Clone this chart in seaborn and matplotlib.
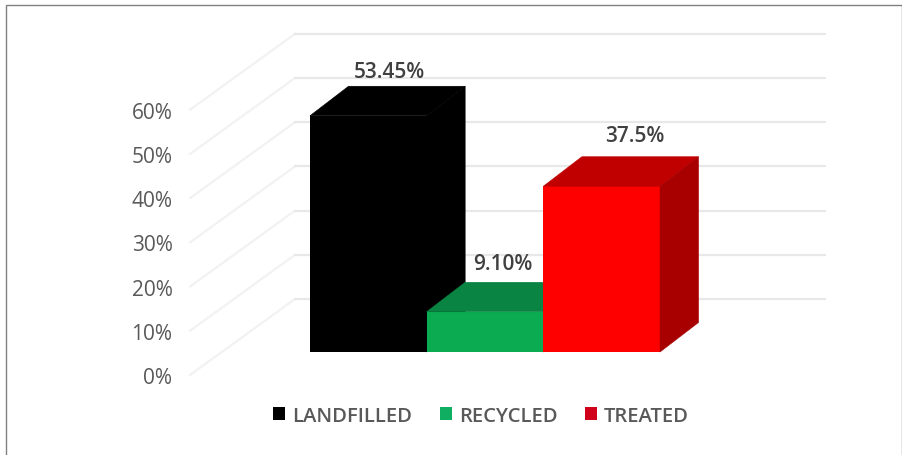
import matplotlib
matplotlib.use('Agg')
import matplotlib.pyplot as plt
from matplotlib.patches import Patch, Polygon, Rectangle
import numpy as np
import pandas as pd
import seaborn as sns

categories = ['LANDFILLED', 'RECYCLED', 'TREATED']
shares = [53.45, 9.10, 37.5]
value_labels = ['53.45%', '9.10%', '37.5%']
ticks = [0, 10, 20, 30, 40, 50, 60]
tick_labels = ['0%', '10%', '20%', '30%', '40%', '50%', '60%']

front_colors = ['#000000', '#0bab52', '#ff0000']
top_colors = ['#000000', '#0a8443', '#c00000']
side_colors = ['#000000', '#07703a', '#a80000']
legend_colors = ['#000000', '#0fae60', '#d0001a']
label_offsets = [(1, 3), (-1, 6), (10, 8)]

W, H = 903, 456
ppx = 116.67  # pixels per category
ppy = 4.42    # pixels per percent

# the bars stand in a plane between the front edge of the floor and the back wall
depth_x = 38.5 / ppx
depth_y = 29.5 / ppy
wall_left = (190 - 310) / ppx - 0.5
wall_back = (295 - 310) / ppx - 0.5
wall_right = (825 - 310) / ppx - 0.5
front_drop = -23 / ppy
back_rise = 53 / ppy

sns.set_theme(style='white')
plt.rcParams['font.family'] = ['Open Sans', 'DejaVu Sans']

fig = plt.figure(figsize=(W / 100, H / 100), dpi=100)
left, right, top, bottom = 185, 840, 20, 400
ax = fig.add_axes([left / W, 1 - bottom / H, (right - left) / W, (bottom - top) / H])

df = pd.DataFrame({'source': categories, 'share': shares})
sns.barplot(data=df, x='source', y='share', hue='source', palette=front_colors,
            width=1, legend=False, saturation=1, linewidth=0, ax=ax)
ax.set_xlim((left - 310) / ppx - 0.5, (right - 310) / ppx - 0.5)
ax.set_ylim((353 - bottom) / ppy, (353 - top) / ppy)

# walls
for t in ticks:
    ax.plot([wall_left, wall_back], [t + front_drop, t + back_rise], color='#f2f2f2', lw=1.6, zorder=1)
    ax.plot([wall_back, wall_right], [t + back_rise, t + back_rise], color='#e8e8e8', lw=1.6, zorder=1)

# fake 3d faces, left bar first so the next one covers it
bars = [c[0] for c in ax.containers]
for i, bar in enumerate(bars):
    x0 = bar.get_x()
    x1 = x0 + bar.get_width()
    h = bar.get_height()
    bar.set_zorder(3 + i)
    ax.add_patch(Polygon([(x0, h), (x1, h), (x1 + depth_x, h + depth_y), (x0 + depth_x, h + depth_y)],
                         facecolor=top_colors[i], edgecolor=top_colors[i], lw=0.4, zorder=3 + i))
    ax.add_patch(Polygon([(x1, 0), (x1 + depth_x, depth_y), (x1 + depth_x, h + depth_y), (x1, h)],
                         facecolor=side_colors[i], edgecolor=side_colors[i], lw=0.4, zorder=3 + i))
    ax.annotate(value_labels[i], (x0 + bar.get_width() / 2 + depth_x / 2, h + depth_y),
                xytext=label_offsets[i], textcoords='offset points', ha='center', va='bottom',
                fontsize=15, fontweight='semibold', color='#404040', zorder=10)

ax.set_xticks([])
ax.set_xlabel('')
ax.set_ylabel('')
ax.set_yticks([t + front_drop for t in ticks])
ax.set_yticklabels(tick_labels, fontsize=15, color='#595959', fontweight='normal')
ax.tick_params(axis='y', length=0, pad=9)
sns.despine(ax=ax, left=True, bottom=True)
ax.patch.set_alpha(0)

handles = [Patch(facecolor=c, edgecolor='none') for c in legend_colors]
ax.legend(handles, categories, loc='center', bbox_to_anchor=(481 / W, 1 - 417 / H),
          bbox_transform=fig.transFigure, ncol=3, frameon=False, handlelength=0.6,
          handleheight=0.6, handletextpad=0.35, columnspacing=1.35,
          prop={'size': 14.6, 'weight': 'semibold'}, labelcolor='#595959')

# image frame
fig.add_artist(Rectangle((6 / W, -0.02), 896 / W, 1.02 - 6 / H, transform=fig.transFigure,
                         fill=False, edgecolor='#808080', lw=1))

fig.savefig('out.png', dpi=100)
